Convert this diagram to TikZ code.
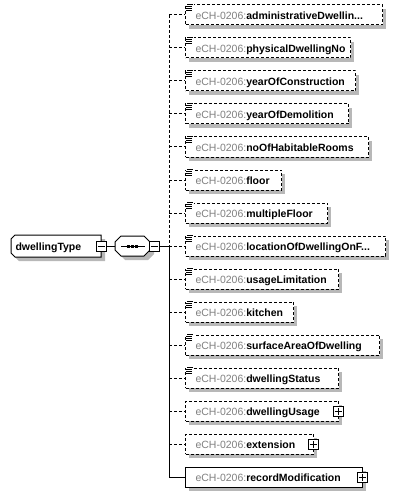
\documentclass[tikz,border=0pt]{standalone}
\usepackage{fontspec}
\setmainfont{Liberation Sans}
\newcommand{\trdots}{...}
\begin{document}
\begin{tikzpicture}[x=1pt,y=-1pt,line width=1pt,
  elbox/.style={draw=black,fill=white,rectangle,minimum height=20pt,inner sep=0pt,anchor=west},
  optional/.style={dash pattern=on 3pt off 2pt},
  lbl/.style={anchor=base west,inner sep=0pt,font=\fontsize{10.5}{12}\selectfont},
  tinybox/.style={draw=black,fill=white,rectangle,minimum size=10pt,inner sep=0pt},
]
\useasboundingbox (0,0) rectangle (400,497);

% shadows first
\fill[black!28] (15,239) -- (105,239) -- (105,261) -- (19,261) -- (15,257) -- cycle;
\fill[black!28] (125,240) -- (148,240) -- (154,246) -- (154,254) -- (148,260) -- (125,260) -- (119,254) -- (119,246) -- cycle;
\foreach \i/\r in {1/382,2/350,3/355,4/348,5/368,6/281,7/327,8/385,9/338,10/293,11/379,12/338,13/338,14/313,15/362}{
  \pgfmathsetmacro\yy{15+33*(\i-1)}
  \fill[black!28] (189,\yy-6) rectangle (\r+4,\yy+14);
}

% root element
\draw[fill=white] (15,235) -- (101,235) -- (101,257) -- (15,257) -- (11,253) -- (11,239) -- cycle;
\node[inner sep=0pt,minimum width=90pt,minimum height=22pt] (dt) at (56,246) {};
\node[lbl] (dtl) at (15,250) {\textbf{dwellingType}};
\node[tinybox] (dtm) at (101,246) {};
\draw ([xshift=2pt]dtm.west) -- ([xshift=-2pt]dtm.east);

% sequence compositor
\draw[fill=white] (121,236) -- (144,236) -- (150,242) -- (150,250) -- (144,256) -- (121,256) -- (115,250) -- (115,242) -- cycle;
\node[inner sep=0pt,minimum width=35pt,minimum height=20pt] (seq) at (132.5,246) {};
\draw (121,246) -- (145,246);
\foreach \xx in {128.5,132.5,136.5}{\fill (\xx-1.5,244.5) rectangle (\xx+1.5,247.5);}
\node[tinybox] (seqm) at (154,246) {};
\draw ([xshift=2pt]seqm.west) -- ([xshift=-2pt]seqm.east);

\draw (dtm.east) -- (seq.west);
\coordinate (spine) at (169,246);
\draw (seqm.east) -- (spine);

% simple-type optional children
\foreach \i/\nm/\r in {1/administrativeDwellin\trdots/382,2/physicalDwellingNo/350,
  3/yearOfConstruction/355,4/yearOfDemolition/348,5/noOfHabitableRooms/368,
  6/floor/281,7/multipleFloor/327,8/locationOfDwellingOnF\trdots/385,
  9/usageLimitation/338,10/kitchen/293,11/surfaceAreaOfDwelling/379,12/dwellingStatus/338}{
  \pgfmathsetmacro\yy{15+33*(\i-1)}
  \node[elbox,optional,minimum width=\r-185] (b\i) at (185,\yy) {};
  \coordinate (j\i) at (169,\yy);
  \draw[optional] (j\i) -- (b\i.west);
  \fill[white] (185.5,\yy-12) rectangle (193.5,\yy-3);
  \draw[line width=0.8pt] (187,\yy-11) -- (193,\yy-11)
        (186,\yy-8.5) -- (192,\yy-8.5)
        (186,\yy-6.5) -- (192,\yy-6.5)
        (186,\yy-4.5) -- (192,\yy-4.5);
  \node[lbl] (t\i) at (195,\yy+4.5) {\textcolor{black!50}{eCH-0206:}\textbf{\nm}};
}

% complex-type children
\foreach \i/\nm/\r/\st in {13/dwellingUsage/338/optional,14/extension/313/optional,15/recordModification/362/solid}{
  \pgfmathsetmacro\yy{15+33*(\i-1)}
  \node[elbox,\st,minimum width=\r-185] (b\i) at (185,\yy) {};
  \coordinate (j\i) at (169,\yy);
  \draw[\st] (j\i) -- (b\i.west);
  \node[lbl] (t\i) at (195,\yy+4.5) {\textcolor{black!50}{eCH-0206:}\textbf{\nm}};
  \node[tinybox] (p\i) at (\r,\yy) {};
  \draw ([xshift=2pt]p\i.west) -- ([xshift=-2pt]p\i.east)
        ([yshift=2pt]p\i.south) -- ([yshift=-2pt]p\i.north);
}

% spine
\draw[optional] (j1) -- (spine);
\draw (spine) -- (j15);
\end{tikzpicture}
\end{document}
